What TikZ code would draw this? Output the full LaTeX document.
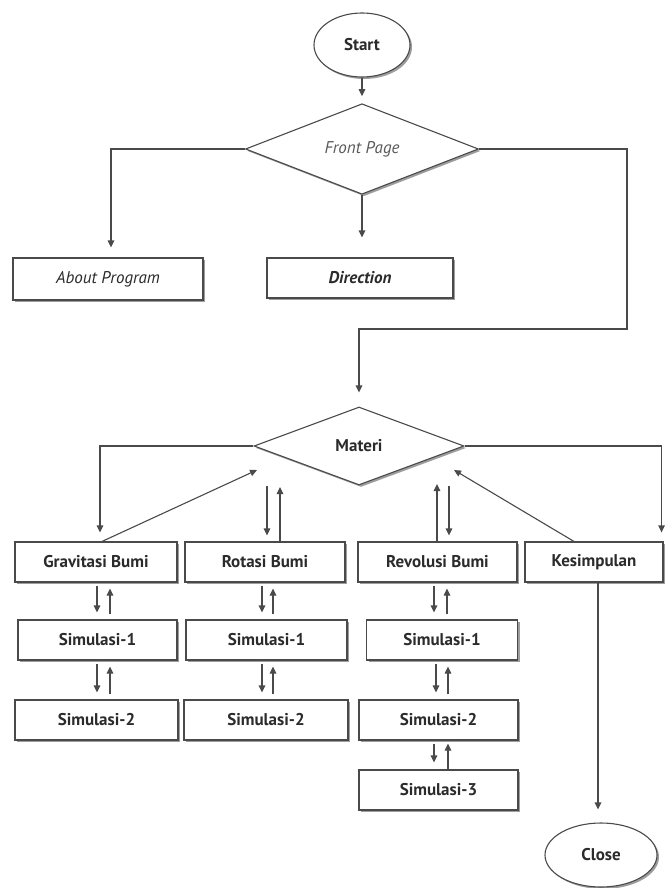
\documentclass[tikz,border=0pt]{standalone}
\usepackage{fontspec}
\setmainfont{PT Sans}
\usetikzlibrary{arrows.meta,shapes.geometric,shadows,calc}
\definecolor{linec}{HTML}{4A4A4A}
\definecolor{txt}{HTML}{2B2B2B}
\definecolor{shad}{HTML}{8C8C8C}
\definecolor{lighttxt}{HTML}{5A5A5A}
\begin{document}
\begin{tikzpicture}[x=1pt,y=-1pt,
  conn/.style={draw=linec, line width=1.1pt},
  arr/.style={conn, -{Triangle[length=7pt,width=6.5pt]}},
  shad/.style={drop shadow={shadow xshift=2pt, shadow yshift=-2pt, fill=shad, opacity=0.85}},
  box/.style={rectangle, draw=linec, line width=1.1pt, fill=white, minimum height=40pt,
    inner sep=0pt, text=txt, font=\fontsize{17}{20}\selectfont\bfseries, shad},
  dec/.style={diamond, draw=linec, line width=1.1pt, fill=white, inner sep=0pt,
    text=txt, font=\fontsize{17}{20}\selectfont\bfseries, shad},
  term/.style={ellipse, draw=linec, line width=1.1pt, fill=white, inner sep=0pt,
    text=txt, font=\fontsize{17}{20}\selectfont\bfseries, shad}]
\fill[white] (0,0) rectangle (664,888);
\useasboundingbox (0,0) rectangle (664,888);

% nodes
\node[term, minimum width=96pt, minimum height=64pt] (start) at (362,45) {Start};
\node[dec, minimum width=233pt, minimum height=78pt, font=\fontsize{17}{20}\selectfont\itshape, text=lighttxt] (front) at (362,149) {Front Page};
\node[box, minimum width=190pt, minimum height=42pt, font=\fontsize{17}{20}\selectfont\itshape] (about) at (108,279) {About Program};
\node[box, minimum width=186pt, font=\fontsize{17}{20}\selectfont\bfseries\itshape] (dir) at (360,278) {Direction};
\node[dec, minimum width=210pt, minimum height=78pt] (materi) at (359,446) {Materi};
\node[box, minimum width=162pt] (grav) at (96,562) {Gravitasi Bumi};
\node[box, minimum width=160pt] (rot) at (265,562) {Rotasi Bumi};
\node[box, minimum width=159pt] (rev) at (437.5,562) {Revolusi Bumi};
\node[box, minimum width=138pt] (kes) at (594,562) {Kesimpulan};
\node[box, minimum width=159pt] (g1) at (97.5,640) {Simulasi-1};
\node[box, minimum width=163pt] (g2) at (96.5,720) {Simulasi-2};
\node[box, minimum width=161pt] (r1) at (266.5,640) {Simulasi-1};
\node[box, minimum width=164pt] (r2) at (266,720) {Simulasi-2};
\node[box, minimum width=151pt] (v1) at (442,640) {Simulasi-1};
\node[box, minimum width=159pt] (v2) at (438.5,720) {Simulasi-2};
\node[box, minimum width=159pt] (v3) at (438.5,790) {Simulasi-3};
\node[term, minimum width=112pt, minimum height=64pt] (close) at (601,855) {Close};

% free ends
\coordinate (fr) at (627,329);
\coordinate (gtip) at (257,470);
\coordinate (ktip) at (454,470);
\coordinate (rd) at (267,486);
\coordinate (ru) at (280,487);
\coordinate (vu) at (437,484);
\coordinate (vd) at (449,486);

% connectors
\draw[arr, shorten >=7pt] (start.south) -- (front.north);
\draw[arr, shorten >=10pt] (front.west) -| ([xshift=3pt]about.north);
\draw[arr, shorten >=20pt] (front.south) -- (front.south |- dir.north);
\draw[arr, shorten >=14pt] (front.east) -| (fr) -| (materi.north);
\draw[arr, shorten >=9pt] (materi.west) -| ([xshift=4pt]grav.north);
\draw[arr, shorten >=9pt] (materi.east) -| ([xshift=-2pt]kes.north east);
\draw[arr] ([xshift=6pt]grav.north) -- (gtip);
\draw[arr] ([xshift=-20pt]kes.north) -- (ktip);
\draw[arr, shorten >=6pt] (rd) -- (rd |- rot.north);
\draw[arr] (ru |- rot.north) -- (ru);
\draw[arr] (vu |- rev.north) -- (vu);
\draw[arr, shorten >=6pt] (vd) -- (vd |- rev.north);

% pairs between rows
\draw[arr, shorten <=3pt, shorten >=7pt] (grav.south -| 97,0) -- (g1.north -| 97,0);
\draw[arr, shorten <=5pt, shorten >=6pt] (g1.north -| 110,0) -- (grav.south -| 110,0);
\draw[arr, shorten <=3pt, shorten >=7pt] (g1.south -| 97,0) -- (g2.north -| 97,0);
\draw[arr, shorten <=5pt, shorten >=6pt] (g2.north -| 110,0) -- (g1.south -| 110,0);
\draw[arr, shorten <=3pt, shorten >=7pt] (rot.south -| 262,0) -- (r1.north -| 262,0);
\draw[arr, shorten <=5pt, shorten >=6pt] (r1.north -| 273,0) -- (rot.south -| 273,0);
\draw[arr, shorten <=3pt, shorten >=7pt] (r1.south -| 262,0) -- (r2.north -| 262,0);
\draw[arr, shorten <=5pt, shorten >=6pt] (r2.north -| 273,0) -- (r1.south -| 273,0);
\draw[arr, shorten <=3pt, shorten >=7pt] (rev.south -| 434,0) -- (v1.north -| 434,0);
\draw[arr, shorten <=5pt, shorten >=6pt] (v1.north -| 447,0) -- (rev.south -| 447,0);
\draw[arr, shorten <=3pt, shorten >=7pt] (v1.south -| 436,0) -- (v2.north -| 436,0);
\draw[arr, shorten <=5pt, shorten >=6pt] (v2.north -| 448,0) -- (v1.south -| 448,0);
\draw[arr, shorten <=3pt, shorten >=7pt] (v2.south -| 434,0) -- (v3.north -| 434,0);
\draw[arr, shorten <=0pt, shorten >=3pt] (v3.north -| 448,0) -- (v2.south -| 448,0);
\draw[arr, shorten >=13pt] (kes.south -| 598,0) -- (close.north -| 598,0);
\end{tikzpicture}
\end{document}
